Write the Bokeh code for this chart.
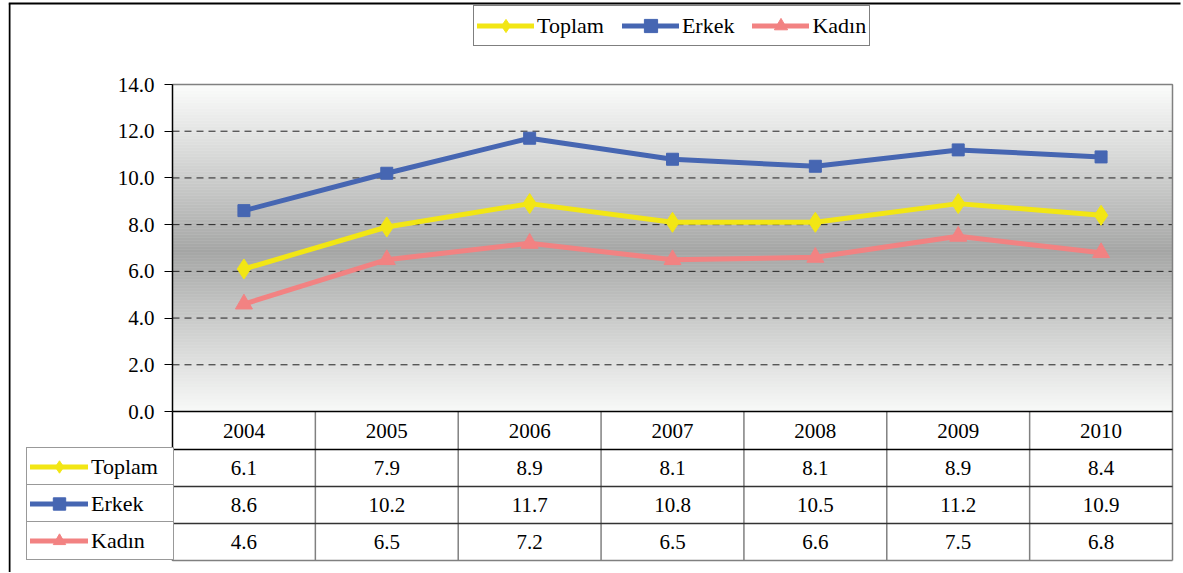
import numpy as np
from bokeh.plotting import figure
from bokeh.models import (Range1d, FixedTicker, Legend, LegendItem)
from bokeh.embed import file_html
from bokeh.resources import INLINE
from bokeh.core.properties import value

# ---------------- data ----------------
years = ["2004", "2005", "2006", "2007", "2008", "2009", "2010"]
series_names = ["Toplam", "Erkek", "Kadın"]
toplam = [6.1, 7.9, 8.9, 8.1, 8.1, 8.9, 8.4]
erkek = [8.6, 10.2, 11.7, 10.8, 10.5, 11.2, 10.9]
kadin = [4.6, 6.5, 7.2, 6.5, 6.6, 7.5, 6.8]
y_ticks = [0, 2, 4, 6, 8, 10, 12, 14]

# ---------------- style / geometry (pixels) ----------------
series_vals = [toplam, erkek, kadin]
colors = ["#F2E614", "#4666B2", "#F28282"]
markers = ["diamond", "square", "triangle"]
msizes = [20, 12, 17]
LINE_W = 5
FONT = "Liberation Serif"
NUM_SIZE = "21px"
LAB_SIZE = "22px"

W, H = 1181, 572
AX_PANEL = 8                 # left panel (axis ticks only)
PX_L, PX_R = 172, 1172       # plot area left/right
PY_T, PY_B = 84, 411         # plot area top (max tick) / bottom (0)
HEAD_H, ROW_H = 38, 37
LCOL_X = 26                  # left edge of table label column
n = len(years)
nr = len(series_names)
ppx = (PX_R - PX_L) / n
ppy = (PY_B - PY_T) / (y_ticks[-1] - y_ticks[0])


def X(px):
    return -0.5 + (px - PX_L) / ppx


def Y(py):
    return (PY_B - py) / ppy


xs = list(range(n))

p = figure(width=W, height=H,
           x_range=Range1d(X(AX_PANEL), X(W - 1)),
           y_range=Range1d(Y(H), Y(0)),
           x_axis_location=None, y_axis_location="left",
           min_border_left=AX_PANEL, min_border_right=1,
           min_border_top=0, min_border_bottom=0,
           output_backend="svg", toolbar_location=None)
p.background_fill_color = "white"
p.border_fill_color = "white"
p.outline_line_color = None
for g in p.grid:
    g.visible = False

# vertical gradient background (white - grey - white)
N = 109
edges = np.linspace(y_ticks[0], y_ticks[-1], N + 1)
cols = []
for i in range(N):
    f = (edges[i] + edges[i + 1]) / 2 / y_ticks[-1]
    t = abs(f - 0.49) / 0.51
    g = int(round(164 + (251 - 164) * t ** 0.95))
    cols.append("#%02x%02x%02x" % (g, g + 1, g))
p.quad(left=-0.5, right=n - 0.5, bottom=edges[:-1] - 0.01, top=edges[1:] + 0.01,
       fill_color=cols, line_color=None, level="image")

# dashed horizontal gridlines
gy = y_ticks[1:]
p.segment(x0=[-0.5] * len(gy), y0=gy, x1=[n - 0.5] * len(gy), y1=gy,
          line_color="#222222", line_dash="7 5", line_width=1)

# y axis (line + ticks) at the left edge of the plot area
ax = p.yaxis[0]
ax.fixed_location = -0.5
ax.ticker = FixedTicker(ticks=y_ticks)
ax.bounds = (y_ticks[0], y_ticks[-1])
ax.major_label_overrides = {t: "" for t in y_ticks}
ax.major_label_standoff = 0
ax.major_tick_in = 0
ax.major_tick_out = 8
ax.major_tick_line_color = "black"
ax.minor_tick_line_color = None
ax.axis_line_color = "black"
ax.axis_line_width = 1.5
# tick labels
p.text(x=[-0.5] * len(y_ticks), y=y_ticks, text=["%.1f" % t for t in y_ticks],
       x_offset=-18, text_align="right", text_baseline="middle",
       text_font=value(FONT), text_font_size=NUM_SIZE, text_color="black")

renderers = []
for name, vals, c, m, s in zip(series_names, series_vals, colors, markers, msizes):
    lr = p.line(xs, vals, line_color=c, line_width=LINE_W, line_join="round", line_cap="round")
    sr = p.scatter(xs, vals, marker=m, size=s, fill_color=c, line_color=c)
    renderers.append([lr, sr])

# ---------------- data table below the plot ----------------
head_bot = PY_B + HEAD_H
row_tops = [head_bot + k * ROW_H for k in range(nr)]
table_bot = head_bot + nr * ROW_H
p.text(x=xs, y=[Y(PY_B + HEAD_H / 2)] * n, text=years, text_align="center",
       text_baseline="middle", text_font=value(FONT), text_font_size=NUM_SIZE,
       text_color="black")
for i, vals in enumerate(series_vals):
    yc = Y(row_tops[i] + ROW_H / 2)
    p.text(x=xs, y=[yc] * n, text=["%.1f" % v for v in vals], text_align="center",
           text_baseline="middle", text_font=value(FONT), text_font_size=NUM_SIZE,
           text_color="black")

bx = [i - 0.5 for i in range(n + 1)]
vcols = ["black"] + ["#808080"] * n
p.segment(x0=bx, y0=[Y(table_bot)] * (n + 1), x1=bx, y1=[0] * (n + 1),
          line_color=vcols, line_width=1.5)
# right edge of the plot area and its top border
p.segment(x0=[n - 0.5, -0.5], y0=[0, y_ticks[-1]], x1=[n - 0.5, n - 0.5],
          y1=[y_ticks[-1], y_ticks[-1]], line_color="#808080", line_width=1.5)
hy = [0, Y(head_bot)] + [Y(r + ROW_H) for r in row_tops]
hcols = ["black", "black"] + ["#333333"] * (nr - 1) + ["#808080"]
p.segment(x0=[-0.5] * len(hy), y0=hy, x1=[n - 0.5] * len(hy), y1=hy,
          line_color=hcols, line_width=1.5)

# outer chart border (left and top)
p.segment(x0=[X(AX_PANEL + 1), X(AX_PANEL)], y0=[Y(3), Y(3)],
          x1=[X(AX_PANEL + 1), X(W)], y1=[Y(H), Y(3)],
          line_color="black", line_width=2)

# legend above the plot
top_items = [LegendItem(label=nm, renderers=r) for nm, r in zip(series_names, renderers)]
LEG_L, LEG_T, LEG_H, LEG_PAD = 473, 7, 39, 3
top_leg = Legend(items=top_items, orientation="horizontal",
                 location=(LEG_L - AX_PANEL, H - LEG_T - LEG_H),
                 label_text_font=FONT, label_text_font_size=LAB_SIZE,
                 label_text_color="black", glyph_width=57, glyph_height=LEG_H - 2 * LEG_PAD,
                 label_height=LEG_H - 2 * LEG_PAD, label_standoff=3, spacing=18,
                 padding=LEG_PAD, margin=0,
                 border_line_color="black", border_line_width=1.5,
                 background_fill_color="white", background_fill_alpha=1)
p.add_layout(top_leg)

# label column of the table (one bordered legend per row)
LCOL_W = PX_L - LCOL_X
RPAD = 3
for i, (nm, r) in enumerate(zip(series_names, renderers)):
    row_leg = Legend(items=[LegendItem(label=nm, renderers=r)], orientation="vertical",
                     location=(LCOL_X - AX_PANEL, H - row_tops[i] - ROW_H),
                     label_text_font=FONT, label_text_font_size=LAB_SIZE,
                     label_text_color="black", glyph_width=58,
                     glyph_height=ROW_H - 2 * RPAD, label_height=ROW_H - 2 * RPAD,
                     label_width=LCOL_W - 2 * RPAD - 58 - 3,
                     label_standoff=3, padding=RPAD, margin=0,
                     border_line_color="#333333", border_line_width=1.5,
                     background_fill_color="white", background_fill_alpha=1)
    p.add_layout(row_leg)

open("out.html", "w").write(file_html(p, INLINE))
